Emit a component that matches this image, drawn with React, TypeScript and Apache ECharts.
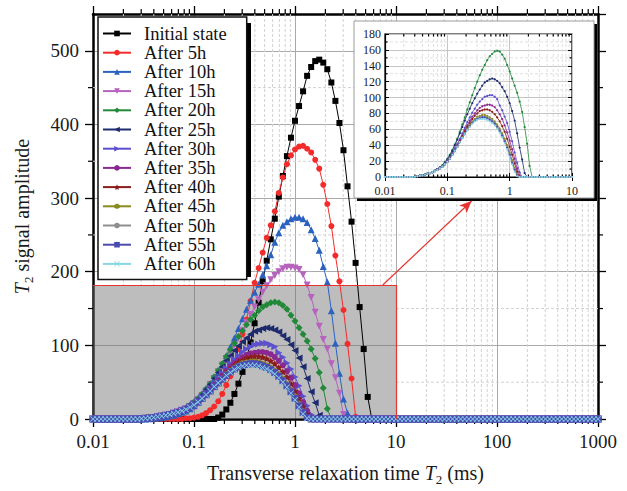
import React, { useEffect, useRef } from "react";
import * as echarts from "echarts";

const FONT = "Liberation Serif";

// T2 sampling grid: 25 points per decade from 0.01 to 1000 ms
const MANTISSA = [1.0, 1.0965, 1.2023, 1.3183, 1.4454, 1.5849, 1.7378, 1.9055, 2.0893, 2.2909, 2.5119, 2.7542, 3.02, 3.3113, 3.6308, 3.9811, 4.3652, 4.7863, 5.2481, 5.7544, 6.3096, 6.9183, 7.5858, 8.3176, 9.1201];
const DECADES = [0.01, 0.1, 1, 10, 100];
const T2: number[] = [...DECADES.flatMap((d) => MANTISSA.map((m) => Number((m * d).toPrecision(5)))), 1000];

const SERIES_NAMES = ["Initial state", "After 5h", "After 10h", "After 15h", "After 20h", "After 25h", "After 30h", "After 35h", "After 40h", "After 45h", "After 50h", "After 55h", "After 60h"];
// index in T2 where each series' listed values begin (zero elsewhere)
const SERIES_START = [30, 22, 12, 11, 11, 11, 11, 11, 11, 11, 11, 11, 11];

const initialState = [0, 2, 6, 13, 22, 34, 48, 64, 82, 104, 130, 158, 187, 215, 244, 272, 302, 330, 357, 382, 405, 425, 445, 466, 478, 486, 488, 484, 475, 457, 432, 402, 365, 316, 268, 212, 152, 95, 30, 0];
const after5h = [0, 1, 1, 2, 3, 5, 8, 12, 17, 24, 34, 46, 58, 75, 95, 115, 135, 160, 185, 205, 226, 246, 263, 282, 307, 328, 346, 358, 366, 370, 371, 367, 362, 352, 340, 318, 292, 262, 222, 187, 148, 102, 55, 3, 0];
const after10h = [0, 0, 0.5, 1, 1.5, 2, 3, 4, 5, 7, 9, 11, 14, 18, 23, 29, 36, 44, 53, 63, 74, 86, 98, 110, 123, 136, 149, 161, 172, 183, 196, 208, 223, 240, 253, 263, 268, 272, 274, 274, 272, 267, 257, 245, 229, 207, 186, 147, 103, 62, 27, 8, 0];
const after15h = [0, 0.5, 1, 1.5, 2, 3, 4, 5, 6, 8, 10, 12, 14, 17, 21, 26, 32, 38, 47, 55, 64, 73, 82, 91, 100, 110, 120, 131, 142, 152, 162, 172, 181, 189, 195, 200, 204, 206, 206, 205, 203, 196, 182, 165, 145, 126, 108, 95, 75, 56, 35, 6, 0];
const after20h = [0, 0.5, 1, 1.5, 2, 3, 4, 5, 6, 8, 10, 12, 15, 19, 23, 28, 34, 41, 48, 57, 66, 75, 85, 94, 103, 112, 120, 128, 135, 141, 147, 152, 155, 158, 159, 158, 154, 149, 141, 133, 124, 115, 106, 95, 82, 63, 42, 14, 0];
const after25h = [0, 0.5, 1, 1.5, 2, 3, 4, 5, 6, 8, 10, 12, 14, 18, 22, 27, 33, 40, 47, 55, 63, 71, 79, 86, 93, 99, 105, 110, 115, 119, 121, 123, 124, 123, 121, 118, 113, 108, 101, 93, 83, 71, 55, 37, 22, 5, 0];
const after30h = [0, 0.5, 1, 1.5, 2, 3, 4, 5, 6, 8, 10, 12, 14, 17, 21, 25, 30, 36, 42, 48, 55, 62, 69, 75, 81, 86, 91, 95, 98, 101, 102, 103, 103, 101, 98, 90, 84, 76, 68, 57, 45, 31, 18, 6, 0];
const after35h = [0, 0.5, 1, 1.5, 2, 3, 4, 5, 6, 7.5, 9, 11, 13, 16, 20, 24, 29, 34, 40, 46, 52, 59, 65, 71, 76, 80, 84, 87, 89, 90, 91, 91, 90, 88, 84, 79, 73, 65, 56, 46, 35, 23, 11, 2, 0];
const after40h = [0, 0.5, 1, 1.5, 2, 3, 4, 5, 6, 7.5, 9, 11, 13, 16, 19, 23, 28, 33, 39, 45, 51, 57, 63, 68, 73, 77, 80, 83, 84, 85, 85, 84, 82, 79, 75, 70, 64, 57, 48, 38, 28, 17, 7, 0];
const after45h = [0, 0.5, 1, 1.5, 2, 3, 4, 5, 6, 7.5, 9, 11, 13, 16, 19, 23, 28, 33, 38, 44, 50, 55, 61, 66, 70, 73, 76, 77, 78, 78, 77, 75, 73, 70, 66, 61, 55, 48, 40, 31, 21, 11, 3, 0];
const after50h = [0, 0.5, 1, 1.5, 2, 3, 4, 5, 6, 7.5, 9, 11, 13, 16, 19, 23, 28, 33, 38, 44, 49, 55, 60, 65, 69, 72, 74, 76, 76, 76, 75, 73, 71, 68, 64, 59, 53, 46, 38, 29, 19, 10, 2, 0];
const after55h = [0, 0.5, 1, 1.5, 2, 3, 4, 5, 6, 7.5, 9, 11, 13, 16, 19, 23, 28, 33, 38, 44, 49, 54, 59, 64, 68, 71, 73, 74, 75, 75, 74, 72, 70, 67, 63, 58, 52, 45, 37, 28, 18, 9, 2, 0];
const after60h = [0, 0.5, 1, 1.5, 2, 3, 4, 5, 6, 7.5, 9, 11, 13, 16, 19, 23, 28, 33, 38, 44, 49, 54, 59, 63, 67, 70, 72, 73, 73, 73, 72, 70, 68, 65, 61, 56, 50, 43, 35, 26, 16, 7, 1, 0];

const SERIES_VALUES = [initialState, after5h, after10h, after15h, after20h, after25h, after30h, after35h, after40h, after45h, after50h, after55h, after60h];

// zoomed region (grey box) and arrow end points, in data units
const BOX_X = [0.01, 10];
const BOX_Y = [0, 182];
const ARROW_FROM = [7.4, 182];
const ARROW_TO = [56, 296];

const MINOR_STEPS = [2, 3, 4, 5, 6, 7, 8, 9];
const MAIN_MINOR_X = DECADES.flatMap((d) => MINOR_STEPS.map((k) => Number((k * d).toPrecision(3))));
const MAIN_MINOR_Y = [50, 150, 250, 350, 450];
const INSET_MINOR_X = [0.01, 0.1, 1].flatMap((d) => MINOR_STEPS.map((k) => Number((k * d).toPrecision(3))));
const INSET_MINOR_Y = [10, 30, 50, 70, 90, 110, 130, 150, 170];

const STAR = "path://M0,-10L2.9,-4L9.5,-3.1L4.8,1.5L5.9,8.1L0,5L-5.9,8.1L-4.8,1.5L-9.5,-3.1L-2.9,-4Z";
const HEX = "path://M0,-10L8.7,-5L8.7,5L0,10L-8.7,5L-8.7,-5Z";
const BAR = "path://M-1.5,-10H1.5V10H-1.5Z";
const CROSS = "path://M-8,-6.5L-6.5,-8L0,-1.5L6.5,-8L8,-6.5L1.5,0L8,6.5L6.5,8L0,1.5L-6.5,8L-8,6.5L-1.5,0Z";

const STYLES = [
  { color: "#000000", symbol: "rect", rotate: 0, size: 6 },
  { color: "#f42b2b", symbol: "circle", rotate: 0, size: 6 },
  { color: "#2b62c0", symbol: "triangle", rotate: 0, size: 7 },
  { color: "#b663bd", symbol: "triangle", rotate: 180, size: 7 },
  { color: "#23893a", symbol: "diamond", rotate: 0, size: 7 },
  { color: "#1d2a6c", symbol: "triangle", rotate: 90, size: 7 },
  { color: "#5c4fce", symbol: "triangle", rotate: -90, size: 7 },
  { color: "#8a2791", symbol: "circle", rotate: 0, size: 6 },
  { color: "#8b1c1c", symbol: STAR, rotate: 0, size: 7 },
  { color: "#8a8a1e", symbol: HEX, rotate: 0, size: 6 },
  { color: "#8e8e8e", symbol: "circle", rotate: 0, size: 6 },
  { color: "#4a4bb2", symbol: BAR, rotate: 0, size: 7 },
  { color: "#86d6e6", symbol: CROSS, rotate: 0, size: 6 },
];

const seriesData = (k: number) =>
  T2.map((x, i) => {
    const s = SERIES_START[k];
    const vals = SERIES_VALUES[k];
    return [x, i >= s && i < s + vals.length ? vals[i - s] : 0];
  });

const logLabel = (v: number) => String(Number(Number(v).toPrecision(4)));

const makeMinor = (tick: number, dashColor: string, clip: boolean) => (params: any, api: any) => {
  const cs = params.coordSys;
  const kind = api.value(2);
  const dash = { stroke: dashColor, lineWidth: 1, lineDash: [3, 2], fill: null };
  const tk = { stroke: "#000", lineWidth: 1.2, fill: null };
  const top = cs.y;
  const bot = cs.y + cs.height;
  const left = cs.x;
  const right = cs.x + cs.width;
  const ch: any[] = [];
  if (kind === 0) {
    const xv = api.value(0);
    const px = api.coord([xv, 0])[0];
    let end = bot;
    if (clip && xv < BOX_X[1]) end = api.coord([xv, BOX_Y[1]])[1];
    ch.push({ type: "line", shape: { x1: px, y1: top, x2: px, y2: end }, style: dash });
    ch.push({ type: "line", shape: { x1: px, y1: bot, x2: px, y2: bot + tick }, style: tk });
    ch.push({ type: "line", shape: { x1: px, y1: top, x2: px, y2: top - tick }, style: tk });
  } else {
    const yv = api.value(1);
    const py = api.coord([1, yv])[1];
    let start = left;
    if (clip && yv < BOX_Y[1]) start = api.coord([BOX_X[1], yv])[0];
    ch.push({ type: "line", shape: { x1: start, y1: py, x2: right, y2: py }, style: dash });
    ch.push({ type: "line", shape: { x1: left, y1: py, x2: left - tick, y2: py }, style: tk });
    ch.push({ type: "line", shape: { x1: right, y1: py, x2: right + tick, y2: py }, style: tk });
  }
  return { type: "group", children: ch };
};

export default function App() {
  const ref = useRef<HTMLDivElement>(null);
  useEffect(() => {
    if (!ref.current) return;
    const chart = echarts.init(ref.current, undefined, { renderer: "svg" });
    const axisText = { fontFamily: FONT, color: "#1a1a1a" };
    const richName = {
      i: { fontFamily: FONT, fontSize: 20, fontStyle: "italic", lineHeight: 26, color: "#1a1a1a" },
      s: { fontFamily: FONT, fontSize: 13, lineHeight: 13, verticalAlign: "bottom", color: "#1a1a1a" },
    };
    const frameLine = { show: true, onZero: false, lineStyle: { color: "#000", width: 2.5 } };
    const mainTick = { show: true, length: 8, lineStyle: { color: "#000", width: 1.3 } };

    const mainSeries = SERIES_NAMES.map((name, k) => ({
      name,
      type: "line",
      xAxisIndex: 0,
      yAxisIndex: 0,
      z: 2,
      data: seriesData(k),
      symbol: STYLES[k].symbol,
      symbolRotate: STYLES[k].rotate,
      symbolSize: STYLES[k].size,
      showSymbol: true,
      showAllSymbol: true,
      itemStyle: { color: STYLES[k].color },
      lineStyle: { color: STYLES[k].color, width: 1 },
      emphasis: { disabled: true },
    }));

    const insetSeries = SERIES_NAMES.slice(4).map((name, j) => {
      const k = j + 4;
      return {
        name: "inset " + name,
        type: "line",
        xAxisIndex: 2,
        yAxisIndex: 2,
        z: 8,
        data: seriesData(k),
        symbol: "circle",
        symbolSize: 2.2,
        showSymbol: true,
        showAllSymbol: true,
        itemStyle: { color: STYLES[k].color },
        lineStyle: { color: STYLES[k].color, width: 0.8 },
        emphasis: { disabled: true },
      };
    });

    const option: any = {
      animation: false,
      backgroundColor: "#fff",
      grid: [
        { left: 93, top: 14, width: 505, height: 407, show: false },
        { left: 385, top: 34, width: 187, height: 143, show: true, borderColor: "#000", borderWidth: 1.2, backgroundColor: "transparent", z: 7 },
      ],
      xAxis: [
        {
          type: "log", logBase: 10, min: 0.01, max: 1000, gridIndex: 0, position: "bottom",
          axisLine: frameLine, axisTick: mainTick,
          axisLabel: { ...axisText, fontSize: 19, margin: 13, formatter: logLabel },
          splitLine: { show: true, lineStyle: { color: "#a9a9a9", width: 1 } },
          name: "Transverse relaxation time {i|T}{s|2} (ms)",
          nameLocation: "middle", nameGap: 41,
          nameTextStyle: { ...axisText, fontSize: 20, lineHeight: 26, rich: richName },
        },
        {
          type: "log", logBase: 10, min: 0.01, max: 1000, gridIndex: 0, position: "top",
          axisLine: frameLine, axisTick: mainTick, axisLabel: { show: false }, splitLine: { show: false },
        },
        {
          type: "log", logBase: 10, min: 0.01, max: 10, gridIndex: 1, position: "bottom", z: 7,
          axisLine: { show: true, onZero: false, lineStyle: { color: "#000", width: 1.2 } },
          axisTick: { show: true, inside: true, length: 4, lineStyle: { color: "#000" } },
          axisLabel: { ...axisText, fontSize: 12, margin: 8, formatter: logLabel },
          splitLine: { show: true, lineStyle: { color: "#c4c4c4", width: 1 } },
        },
        {
          type: "log", logBase: 10, min: 0.01, max: 10, gridIndex: 1, position: "top", z: 7,
          axisLine: { show: false }, axisTick: { show: true, inside: true, length: 4, lineStyle: { color: "#000" } },
          axisLabel: { show: false }, splitLine: { show: false },
        },
      ],
      yAxis: [
        {
          type: "value", min: 0, max: 550, interval: 100, gridIndex: 0, position: "left",
          axisLine: frameLine, axisTick: mainTick,
          axisLabel: { ...axisText, fontSize: 19, margin: 14, showMaxLabel: false },
          splitLine: { show: true, lineStyle: { color: "#a9a9a9", width: 1 } },
          name: "{i|T}{s|2} signal amplitude",
          nameLocation: "middle", nameGap: 58, nameRotate: 90,
          nameTextStyle: { ...axisText, fontSize: 20, lineHeight: 26, rich: richName },
        },
        {
          type: "value", min: 0, max: 550, interval: 100, gridIndex: 0, position: "right",
          axisLine: frameLine, axisTick: mainTick, axisLabel: { show: false }, splitLine: { show: false },
        },
        {
          type: "value", min: 0, max: 180, interval: 20, gridIndex: 1, position: "left", z: 7,
          axisLine: { show: true, onZero: false, lineStyle: { color: "#000", width: 1.2 } },
          axisTick: { show: true, inside: true, length: 4, lineStyle: { color: "#000" } },
          axisLabel: { ...axisText, fontSize: 12, margin: 4 },
          splitLine: { show: true, lineStyle: { color: "#c4c4c4", width: 1 } },
        },
        {
          type: "value", min: 0, max: 180, interval: 20, gridIndex: 1, position: "right", z: 7,
          axisLine: { show: false }, axisTick: { show: true, inside: true, length: 4, lineStyle: { color: "#000" } },
          axisLabel: { show: false }, splitLine: { show: false },
        },
      ],
      legend: {
        show: true,
        data: SERIES_NAMES,
        orient: "vertical",
        left: 98,
        top: 17,
        itemWidth: 28,
        itemHeight: 7,
        itemGap: 0.2,
        padding: [7, 20, 6, 4],
        backgroundColor: "#fff",
        borderColor: "#111",
        borderWidth: 1.5,
        selectedMode: false,
        textStyle: { fontFamily: FONT, fontSize: 18.5, color: "#111", padding: [0, 0, 0, 8] },
      },
      graphic: {
        elements: [
          { type: "rect", silent: true, z: 3, shape: { x: 104, y: 23, width: 147, height: 254 }, style: { fill: "#000" } },
          { type: "rect", silent: true, z: 5, shape: { x: 357, y: 24, width: 240, height: 177 }, style: { fill: "#000" } },
          { type: "rect", silent: true, z: 6, shape: { x: 354, y: 21, width: 240, height: 177 }, style: { fill: "#fff", stroke: "#9a9a9a", lineWidth: 1 } },
        ],
      },
      series: [
        {
          name: "minor-main",
          type: "custom",
          xAxisIndex: 0,
          yAxisIndex: 0,
          z: 1,
          silent: true,
          clip: false,
          dimensions: ["x", "y", "k"],
          encode: { x: 0, y: 1 },
          renderItem: makeMinor(5, "#d2d2d2", true),
          data: [...MAIN_MINOR_X.map((x) => [x, 0, 0]), ...MAIN_MINOR_Y.map((y) => [1, y, 1])],
        },
        {
          name: "zoom-box",
          type: "line",
          xAxisIndex: 0,
          yAxisIndex: 0,
          z: 1,
          silent: true,
          data: [],
          markArea: {
            silent: true,
            itemStyle: { color: "rgba(118,118,120,0.48)" },
            label: { show: false },
            data: [[{ coord: [BOX_X[0], BOX_Y[0]] }, { coord: [BOX_X[1], BOX_Y[1]] }]],
          },
          markLine: {
            silent: true,
            symbol: ["none", "none"],
            label: { show: false },
            lineStyle: { color: "#e8342e", width: 1.2, type: "solid" },
            data: [
              [{ coord: [BOX_X[0], BOX_Y[1]] }, { coord: [BOX_X[1], BOX_Y[1]] }],
              [{ coord: [BOX_X[1], BOX_Y[0]] }, { coord: [BOX_X[1], BOX_Y[1]] }],
              [{ coord: ARROW_FROM, symbol: "none" }, { coord: ARROW_TO, symbol: "arrow", symbolSize: [8, 12] }],
            ],
          },
        },
        ...mainSeries,
        {
          name: "minor-inset",
          type: "custom",
          xAxisIndex: 2,
          yAxisIndex: 2,
          z: 7,
          silent: true,
          clip: false,
          dimensions: ["x", "y", "k"],
          encode: { x: 0, y: 1 },
          renderItem: makeMinor(-2.5, "#e0e0e0", false),
          data: [...INSET_MINOR_X.map((x) => [x, 0, 0]), ...INSET_MINOR_Y.map((y) => [1, y, 1])],
        },
        ...insetSeries,
      ],
    };
    chart.setOption(option);
    return () => chart.dispose();
  }, []);
  return <div ref={ref} style={{ position: "absolute", left: 0, top: 0, width: 627, height: 491 }} />;
}
